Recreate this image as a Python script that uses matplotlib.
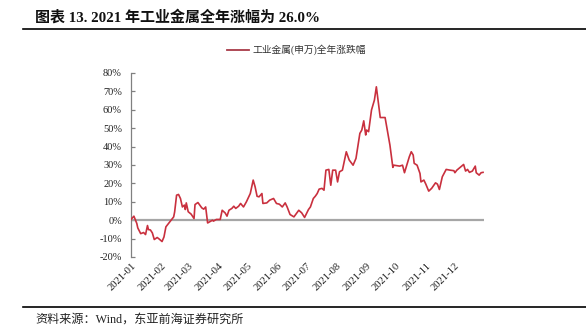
import matplotlib
matplotlib.use("Agg")
import matplotlib.pyplot as plt
import matplotlib.dates as mdates
from matplotlib.lines import Line2D
import pandas as pd

title = "图表 13. 2021 年工业金属全年涨幅为 26.0%"
series_name = "工业金属(申万)全年涨跌幅"
source = "资料来源：Wind，东亚前海证券研究所"

dates = [
    "2021-01-01", "2021-01-04", "2021-01-07", "2021-01-08", "2021-01-11", "2021-01-14",
    "2021-01-16", "2021-01-18", "2021-01-19", "2021-01-21", "2021-01-23", "2021-01-25",
    "2021-01-28", "2021-01-30", "2021-02-02", "2021-02-04", "2021-02-06", "2021-02-10",
    "2021-02-14", "2021-02-15", "2021-02-17", "2021-02-19", "2021-02-21", "2021-02-23",
    "2021-02-25", "2021-02-26", "2021-02-27", "2021-03-01", "2021-03-04", "2021-03-07",
    "2021-03-08", "2021-03-11", "2021-03-15", "2021-03-17", "2021-03-19", "2021-03-21",
    "2021-03-23", "2021-03-26", "2021-03-27", "2021-03-30", "2021-04-03", "2021-04-05",
    "2021-04-08", "2021-04-10", "2021-04-12", "2021-04-15", "2021-04-17", "2021-04-19",
    "2021-04-22", "2021-04-24", "2021-04-26", "2021-04-27", "2021-04-30", "2021-05-04",
    "2021-05-07", "2021-05-09", "2021-05-11", "2021-05-13", "2021-05-16", "2021-05-17",
    "2021-05-21", "2021-05-24", "2021-05-28", "2021-05-31", "2021-06-03", "2021-06-06",
    "2021-06-09", "2021-06-11", "2021-06-14", "2021-06-18", "2021-06-23", "2021-06-26",
    "2021-06-29", "2021-07-03", "2021-07-05", "2021-07-08", "2021-07-10", "2021-07-12",
    "2021-07-14", "2021-07-17", "2021-07-19", "2021-07-21", "2021-07-24", "2021-07-26",
    "2021-07-28", "2021-07-31", "2021-08-02", "2021-08-04", "2021-08-07", "2021-08-11",
    "2021-08-14", "2021-08-18", "2021-08-21", "2021-08-25", "2021-08-27", "2021-08-29",
    "2021-08-31", "2021-09-01", "2021-09-03", "2021-09-06", "2021-09-09", "2021-09-11",
    "2021-09-15", "2021-09-20", "2021-09-25", "2021-09-28", "2021-09-29", "2021-10-05",
    "2021-10-08", "2021-10-10", "2021-10-13", "2021-10-15", "2021-10-17", "2021-10-19",
    "2021-10-20", "2021-10-23", "2021-10-26", "2021-10-27", "2021-10-30", "2021-11-01",
    "2021-11-04", "2021-11-07", "2021-11-11", "2021-11-13", "2021-11-15", "2021-11-18",
    "2021-11-22", "2021-11-26", "2021-11-30", "2021-12-01", "2021-12-03", "2021-12-07",
    "2021-12-10", "2021-12-12", "2021-12-14", "2021-12-16", "2021-12-19", "2021-12-22",
    "2021-12-23", "2021-12-26", "2021-12-28", "2021-12-30",
]
values = [
    0.4, 2.2, -1.8, -4.2, -7.3, -6.7,
    -7.8, -2.9, -5.1, -5.3, -6.9, -10.5,
    -9.4, -10.2, -11.6, -9.1, -3.6, -0.9,
    1.8, 4.5, 13.6, 14.0, 11.8, 7.2,
    8.2, 5.8, 9.4, 4.6, 3.3, 0.9,
    8.5, 9.6, 6.7, 6.0, 7.2, -1.5,
    -0.9, 0.0, -0.5, 0.4, 0.4, 5.4,
    4.0, 2.2, 5.4, 6.4, 7.6, 6.4,
    7.6, 9.1, 7.8, 7.2, 10.0, 14.5,
    21.8, 18.1, 13.0, 12.7, 14.5, 9.1,
    9.4, 10.9, 11.8, 9.1, 8.7, 7.2,
    9.4, 7.2, 3.1, 1.8, 5.4, 4.0,
    1.5, 5.8, 7.2, 11.8, 13.0, 14.5,
    16.9, 17.3, 16.3, 27.2, 27.6, 19.0,
    27.2, 27.2, 20.8, 26.3, 27.2, 37.2,
    32.7, 29.9, 33.6, 47.2, 49.0, 54.0,
    46.3, 49.0, 48.1, 59.9, 65.3, 72.5,
    55.8, 55.8, 40.8, 28.7, 29.9, 29.4,
    29.9, 25.8, 30.9, 34.5, 37.2, 35.4,
    30.9, 29.9, 25.4, 20.8, 21.8, 19.6,
    15.8, 17.3, 20.3, 19.6, 16.7, 23.6,
    27.6, 27.2, 26.9, 25.8, 27.2, 29.0,
    30.3, 26.7, 27.6, 26.0, 26.7, 29.4,
    25.8, 24.5, 25.8, 26.0,
]
y_ticks = [-20, -10, 0, 10, 20, 30, 40, 50, 60, 70, 80]

serif_cjk = ["Liberation Serif", "Noto Sans CJK SC", "DejaVu Sans"]
plt.rcParams["font.family"] = serif_cjk

fig = plt.figure(figsize=(5.86, 3.25), dpi=100)
ax = fig.add_axes([131 / 586, 1 - 257 / 325, (484 - 131) / 586, (257 - 73) / 325])

x = pd.to_datetime(dates)
line_color = "#c9303e"
ax.plot(x, values, color=line_color, lw=1.2, zorder=3)
ax.axhline(0, color="#a6a6a6", lw=1.6, zorder=2)

ax.set_ylim(-20, 80)
ax.set_xlim(pd.Timestamp("2021-01-01"), pd.Timestamp("2021-12-31"))
ax.set_yticks(y_ticks)
ax.set_yticklabels([f"{v}%" for v in y_ticks])
ax.xaxis.set_major_locator(mdates.MonthLocator())
ax.xaxis.set_major_formatter(mdates.DateFormatter("%Y-%m"))

for s in ["top", "right", "bottom"]:
    ax.spines[s].set_visible(False)
ax.spines["left"].set_color("#808080")
ax.spines["left"].set_linewidth(0.9)
ax.tick_params(axis="y", direction="in", length=3, width=0.9, color="#808080",
               labelsize=7.5, pad=6.5, labelcolor="#222222")
ax.tick_params(axis="x", length=0, labelsize=7.7, pad=3, labelcolor="#222222")
for lab in ax.get_xticklabels():
    lab.set_rotation(45)
    lab.set_ha("right")
    lab.set_va("top")
    lab.set_rotation_mode("anchor")

# title
fig.text(35 / 586, 1 - 17 / 325, title, fontsize=10.8, fontweight="bold",
         ha="left", va="center", color="#111111")
fig.add_artist(Line2D([23 / 586, 1.0], [1 - 29 / 325, 1 - 29 / 325],
                      color="black", lw=1.2, transform=fig.transFigure))
fig.add_artist(Line2D([23 / 586, 1.0], [1 - 307 / 325, 1 - 307 / 325],
                      color="black", lw=1.2, transform=fig.transFigure))
fig.text(35 / 586, 1 - 320 / 325, source, fontsize=8.7, ha="left", va="center",
         color="#222222")

handle = Line2D([], [], color="#a83a48", lw=1.3)
fig.legend([handle], [series_name], loc="center",
           bbox_to_anchor=(296.5 / 586, 1 - 50 / 325), frameon=False,
           fontsize=7, handlelength=2.2, handletextpad=0.4, borderpad=0,
           labelcolor="#333333")

fig.savefig("out.png", dpi=100)
